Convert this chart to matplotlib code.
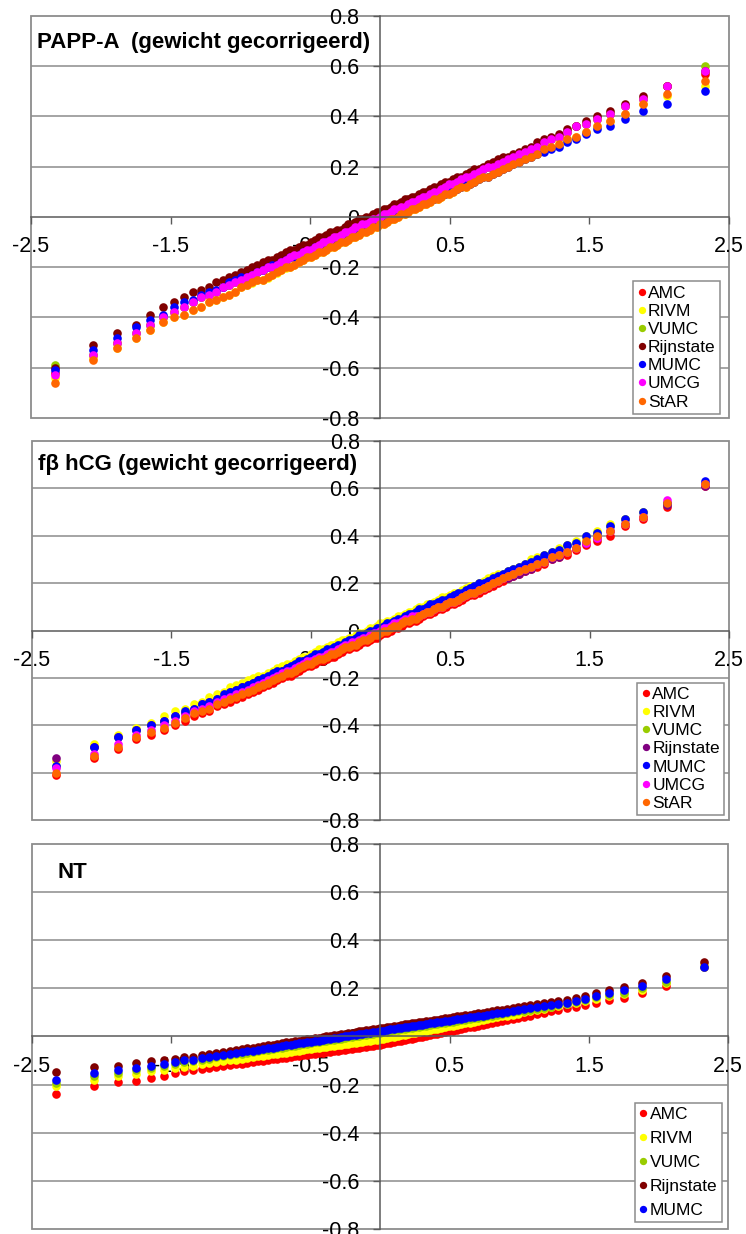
import matplotlib
matplotlib.use("Agg")
import matplotlib.pyplot as plt
from matplotlib.patches import Rectangle
from matplotlib.ticker import FuncFormatter, MultipleLocator

plt.rcParams["font.family"] = ["Liberation Sans", "DejaVu Sans"]

# normal scores of the 1st..99th percentile (x axis of every panel)
z = [-2.326, -2.054, -1.881, -1.751, -1.645, -1.555, -1.476, -1.405, -1.341, -1.282,
     -1.227, -1.175, -1.126, -1.080, -1.036, -0.994, -0.954, -0.915, -0.878, -0.842,
     -0.806, -0.772, -0.739, -0.706, -0.674, -0.643, -0.613, -0.583, -0.553, -0.524,
     -0.496, -0.468, -0.440, -0.412, -0.385, -0.358, -0.332, -0.305, -0.279, -0.253,
     -0.228, -0.202, -0.176, -0.151, -0.126, -0.100, -0.075, -0.050, -0.025, 0.0,
     0.025, 0.050, 0.075, 0.100, 0.126, 0.151, 0.176, 0.202, 0.228, 0.253,
     0.279, 0.305, 0.332, 0.358, 0.385, 0.412, 0.440, 0.468, 0.496, 0.524,
     0.553, 0.583, 0.613, 0.643, 0.674, 0.706, 0.739, 0.772, 0.806, 0.842,
     0.878, 0.915, 0.954, 0.994, 1.036, 1.080, 1.126, 1.175, 1.227, 1.282,
     1.341, 1.405, 1.476, 1.555, 1.645, 1.751, 1.881, 2.054, 2.326]

centres = ["AMC", "RIVM", "VUMC", "Rijnstate", "MUMC", "UMCG", "StAR"]
x_ticks = [-2.5, -1.5, -0.5, 0.5, 1.5, 2.5]

# ---- PAPP-A ----
papp_amc = [-0.62, -0.55, -0.50, -0.46, -0.43, -0.40, -0.38, -0.36,
            -0.34, -0.32, -0.31, -0.30, -0.28, -0.27, -0.26, -0.25, -0.24, -0.23, -0.22, -0.21,
            -0.20, -0.20, -0.19, -0.18, -0.17, -0.16, -0.15, -0.15, -0.14, -0.13,
            -0.13, -0.12, -0.11, -0.10, -0.10, -0.09, -0.08, -0.08, -0.07, -0.06,
            -0.06, -0.05, -0.04, -0.04, -0.03, -0.03, -0.02, -0.01, -0.01, 0.00,
            0.01, 0.01, 0.02, 0.03, 0.03, 0.04, 0.04, 0.05, 0.06, 0.06,
            0.07, 0.08, 0.08, 0.09, 0.10, 0.10, 0.11, 0.12, 0.13, 0.13,
            0.14, 0.15, 0.16, 0.16, 0.17, 0.18, 0.19, 0.20, 0.20, 0.21,
            0.22, 0.23, 0.24, 0.25, 0.26, 0.27, 0.28, 0.30, 0.31, 0.32,
            0.34, 0.36, 0.37, 0.39, 0.41, 0.44, 0.47, 0.52, 0.57]
papp_rivm = [-0.64, -0.56, -0.52, -0.48, -0.45, -0.42, -0.40, -0.39,
             -0.37, -0.36, -0.34, -0.33, -0.32, -0.31, -0.30, -0.28, -0.272, -0.262, -0.252, -0.252,
             -0.242, -0.232, -0.222, -0.212, -0.202, -0.20, -0.19, -0.18, -0.17, -0.16,
             -0.16, -0.15, -0.14, -0.14, -0.13, -0.12, -0.12, -0.11, -0.10, -0.10,
             -0.09, -0.08, -0.08, -0.07, -0.06, -0.06, -0.05, -0.04, -0.04, -0.03,
             -0.03, -0.02, -0.01, -0.01, 0.00, 0.01, 0.01, 0.02, 0.03, 0.03,
             0.04, 0.05, 0.05, 0.06, 0.07, 0.07, 0.08, 0.09, 0.09, 0.10,
             0.11, 0.12, 0.12, 0.13, 0.14, 0.15, 0.16, 0.16, 0.17, 0.18,
             0.19, 0.20, 0.21, 0.22, 0.23, 0.24, 0.25, 0.27, 0.28, 0.29,
             0.31, 0.32, 0.34, 0.36, 0.38, 0.41, 0.45, 0.48, 0.52]
papp_vumc = [-0.59, -0.55, -0.50, -0.46, -0.43, -0.40, -0.38, -0.36,
             -0.34, -0.32, -0.31, -0.30, -0.28, -0.27, -0.26, -0.25, -0.24, -0.23, -0.22, -0.21,
             -0.20, -0.20, -0.19, -0.18, -0.17, -0.16, -0.15, -0.15, -0.14, -0.13,
             -0.13, -0.12, -0.11, -0.10, -0.10, -0.09, -0.08, -0.08, -0.07, -0.06,
             -0.06, -0.05, -0.04, -0.04, -0.03, -0.03, -0.02, -0.01, -0.01, 0.00,
             0.01, 0.01, 0.02, 0.03, 0.03, 0.04, 0.04, 0.05, 0.06, 0.06,
             0.07, 0.08, 0.08, 0.09, 0.10, 0.10, 0.11, 0.12, 0.13, 0.13,
             0.14, 0.15, 0.16, 0.16, 0.17, 0.18, 0.19, 0.20, 0.20, 0.21,
             0.22, 0.23, 0.24, 0.25, 0.26, 0.27, 0.28, 0.30, 0.31, 0.32,
             0.34, 0.36, 0.37, 0.39, 0.41, 0.44, 0.47, 0.52, 0.60]
papp_rijn = [-0.60, -0.51, -0.46, -0.43, -0.39, -0.36, -0.34, -0.32,
             -0.30, -0.29, -0.28, -0.26, -0.25, -0.24, -0.23, -0.22, -0.21, -0.20, -0.19, -0.18,
             -0.17, -0.17, -0.16, -0.15, -0.14, -0.13, -0.13, -0.12, -0.11, -0.11,
             -0.10, -0.09, -0.08, -0.08, -0.07, -0.06, -0.06, -0.05, -0.05, -0.04,
             -0.03, -0.03, -0.02, -0.01, -0.01, 0.00, 0.00, 0.01, 0.02, 0.02,
             0.03, 0.03, 0.04, 0.05, 0.05, 0.06, 0.07, 0.07, 0.08, 0.08,
             0.09, 0.10, 0.10, 0.11, 0.12, 0.12, 0.13, 0.14, 0.14, 0.15,
             0.16, 0.16, 0.17, 0.18, 0.19, 0.19, 0.20, 0.21, 0.22, 0.23,
             0.24, 0.24, 0.25, 0.26, 0.27, 0.28, 0.30, 0.31, 0.32, 0.33,
             0.35, 0.36, 0.38, 0.40, 0.42, 0.45, 0.48, 0.52, 0.58]
papp_mumc = [-0.61, -0.53, -0.48, -0.44, -0.41, -0.39, -0.36, -0.34,
             -0.33, -0.31, -0.30, -0.29, -0.28, -0.26, -0.25, -0.24, -0.24, -0.23, -0.22, -0.21,
             -0.20, -0.19, -0.19, -0.18, -0.17, -0.16, -0.16, -0.15, -0.14, -0.14,
             -0.13, -0.12, -0.12, -0.11, -0.10, -0.10, -0.09, -0.09, -0.08, -0.07,
             -0.07, -0.06, -0.06, -0.05, -0.04, -0.04, -0.03, -0.03, -0.02, -0.02,
             -0.01, 0.00, 0.00, 0.01, 0.01, 0.02, 0.03, 0.03, 0.04, 0.04,
             0.05, 0.06, 0.06, 0.07, 0.07, 0.08, 0.09, 0.09, 0.10, 0.11,
             0.11, 0.12, 0.13, 0.13, 0.14, 0.15, 0.16, 0.16, 0.17, 0.18,
             0.19, 0.20, 0.21, 0.22, 0.23, 0.24, 0.25, 0.26, 0.27, 0.28,
             0.30, 0.31, 0.33, 0.35, 0.36, 0.39, 0.42, 0.45, 0.50]
papp_umcg = [-0.63, -0.55, -0.50, -0.46, -0.43, -0.40, -0.38, -0.36,
             -0.34, -0.32, -0.31, -0.30, -0.28, -0.27, -0.26, -0.25, -0.24, -0.23, -0.22, -0.21,
             -0.20, -0.20, -0.19, -0.18, -0.17, -0.16, -0.15, -0.15, -0.14, -0.13,
             -0.13, -0.12, -0.11, -0.10, -0.10, -0.09, -0.08, -0.08, -0.07, -0.06,
             -0.06, -0.05, -0.04, -0.04, -0.03, -0.03, -0.02, -0.01, -0.01, 0.00,
             0.01, 0.01, 0.02, 0.03, 0.03, 0.04, 0.04, 0.05, 0.06, 0.06,
             0.07, 0.08, 0.08, 0.09, 0.10, 0.10, 0.11, 0.12, 0.13, 0.13,
             0.14, 0.15, 0.16, 0.16, 0.17, 0.18, 0.19, 0.20, 0.20, 0.21,
             0.22, 0.23, 0.24, 0.25, 0.26, 0.27, 0.28, 0.30, 0.31, 0.32,
             0.34, 0.36, 0.37, 0.39, 0.41, 0.44, 0.47, 0.52, 0.58]
papp_star = [-0.66, -0.57, -0.52, -0.48, -0.45, -0.42, -0.40, -0.39,
             -0.37, -0.36, -0.34, -0.33, -0.32, -0.31, -0.30, -0.28, -0.27, -0.26, -0.25, -0.25,
             -0.24, -0.23, -0.22, -0.21, -0.20, -0.20, -0.19, -0.18, -0.17, -0.16,
             -0.16, -0.15, -0.14, -0.14, -0.13, -0.12, -0.12, -0.11, -0.10, -0.10,
             -0.09, -0.08, -0.08, -0.07, -0.06, -0.06, -0.05, -0.04, -0.04, -0.03,
             -0.03, -0.02, -0.01, -0.01, 0.00, 0.01, 0.01, 0.02, 0.03, 0.03,
             0.04, 0.05, 0.05, 0.06, 0.07, 0.07, 0.08, 0.09, 0.09, 0.10,
             0.11, 0.12, 0.12, 0.13, 0.14, 0.15, 0.16, 0.16, 0.17, 0.18,
             0.19, 0.20, 0.21, 0.22, 0.23, 0.24, 0.25, 0.27, 0.28, 0.29,
             0.31, 0.32, 0.34, 0.36, 0.38, 0.41, 0.45, 0.49, 0.54]

# ---- f-beta hCG ----
hcg_amc = [-0.61, -0.54, -0.50, -0.46, -0.44, -0.42, -0.40, -0.38,
           -0.36, -0.35, -0.34, -0.32, -0.31, -0.30, -0.29, -0.28, -0.27, -0.26, -0.25, -0.24,
           -0.23, -0.22, -0.21, -0.20, -0.19, -0.19, -0.18, -0.17, -0.16, -0.15,
           -0.15, -0.14, -0.13, -0.13, -0.12, -0.11, -0.11, -0.10, -0.09, -0.08,
           -0.08, -0.07, -0.07, -0.06, -0.05, -0.05, -0.04, -0.03, -0.03, -0.02,
           -0.01, -0.01, 0.00, 0.01, 0.01, 0.02, 0.03, 0.03, 0.04, 0.04,
           0.05, 0.06, 0.07, 0.07, 0.08, 0.09, 0.09, 0.10, 0.11, 0.11,
           0.12, 0.13, 0.14, 0.15, 0.15, 0.16, 0.17, 0.18, 0.19, 0.20,
           0.21, 0.22, 0.23, 0.24, 0.25, 0.26, 0.27, 0.28, 0.30, 0.31,
           0.32, 0.34, 0.36, 0.38, 0.40, 0.44, 0.47, 0.52, 0.61]
hcg_rivm = [-0.55, -0.48, -0.44, -0.41, -0.39, -0.36, -0.34, -0.33,
            -0.31, -0.30, -0.28, -0.27, -0.26, -0.24, -0.23, -0.22, -0.21, -0.20, -0.19, -0.19,
            -0.18, -0.17, -0.16, -0.15, -0.14, -0.14, -0.13, -0.12, -0.11, -0.11,
            -0.10, -0.09, -0.08, -0.08, -0.07, -0.06, -0.06, -0.05, -0.04, -0.04,
            -0.03, -0.03, -0.02, -0.01, -0.01, 0.00, 0.01, 0.01, 0.02, 0.03,
            0.03, 0.04, 0.04, 0.05, 0.06, 0.06, 0.07, 0.08, 0.08, 0.09,
            0.10, 0.10, 0.11, 0.11, 0.12, 0.13, 0.14, 0.14, 0.15, 0.16,
            0.16, 0.17, 0.18, 0.19, 0.19, 0.20, 0.21, 0.22, 0.23, 0.24,
            0.24, 0.25, 0.26, 0.27, 0.28, 0.30, 0.31, 0.32, 0.33, 0.35,
            0.36, 0.38, 0.39, 0.42, 0.45, 0.47, 0.50, 0.54, 0.62]
hcg_vumc = [-0.57, -0.49, -0.45, -0.42, -0.40, -0.38, -0.36, -0.34,
            -0.33, -0.31, -0.30, -0.29, -0.27, -0.26, -0.25, -0.24, -0.23, -0.22, -0.21, -0.20,
            -0.19, -0.18, -0.17, -0.17, -0.16, -0.15, -0.14, -0.13, -0.13, -0.12,
            -0.11, -0.10, -0.10, -0.09, -0.08, -0.08, -0.07, -0.06, -0.06, -0.05,
            -0.04, -0.04, -0.03, -0.02, -0.02, -0.01, 0.00, 0.00, 0.01, 0.01,
            0.02, 0.03, 0.03, 0.04, 0.05, 0.05, 0.06, 0.07, 0.07, 0.08,
            0.09, 0.09, 0.10, 0.11, 0.11, 0.12, 0.13, 0.13, 0.14, 0.15,
            0.16, 0.16, 0.17, 0.18, 0.19, 0.20, 0.20, 0.21, 0.22, 0.23,
            0.24, 0.25, 0.26, 0.27, 0.28, 0.29, 0.30, 0.32, 0.33, 0.34,
            0.36, 0.37, 0.40, 0.41, 0.44, 0.47, 0.50, 0.54, 0.62]
hcg_rijn = [-0.54, -0.49, -0.45, -0.42, -0.40, -0.38, -0.36, -0.35,
            -0.33, -0.31, -0.30, -0.29, -0.28, -0.26, -0.25, -0.24, -0.23, -0.22, -0.21, -0.21,
            -0.20, -0.19, -0.18, -0.17, -0.16, -0.16, -0.15, -0.14, -0.13, -0.13,
            -0.12, -0.11, -0.11, -0.10, -0.09, -0.09, -0.08, -0.07, -0.07, -0.06,
            -0.06, -0.05, -0.04, -0.04, -0.03, -0.02, -0.02, -0.01, -0.01, 0.00,
            0.01, 0.01, 0.02, 0.02, 0.03, 0.04, 0.04, 0.05, 0.06, 0.06,
            0.07, 0.07, 0.08, 0.09, 0.09, 0.10, 0.11, 0.11, 0.12, 0.13,
            0.14, 0.14, 0.15, 0.16, 0.17, 0.17, 0.18, 0.19, 0.20, 0.21,
            0.22, 0.22, 0.23, 0.24, 0.25, 0.26, 0.28, 0.29, 0.30, 0.31,
            0.33, 0.35, 0.37, 0.39, 0.42, 0.45, 0.48, 0.53, 0.61]
hcg_mumc = [-0.57, -0.49, -0.45, -0.42, -0.40, -0.38, -0.36, -0.34,
            -0.33, -0.31, -0.30, -0.29, -0.27, -0.26, -0.25, -0.24, -0.23, -0.22, -0.21, -0.20,
            -0.19, -0.18, -0.17, -0.17, -0.16, -0.15, -0.14, -0.13, -0.13, -0.12,
            -0.11, -0.10, -0.10, -0.09, -0.08, -0.08, -0.07, -0.06, -0.06, -0.05,
            -0.04, -0.04, -0.03, -0.02, -0.02, -0.01, 0.00, 0.00, 0.01, 0.01,
            0.02, 0.03, 0.03, 0.04, 0.05, 0.05, 0.06, 0.07, 0.07, 0.08,
            0.09, 0.09, 0.10, 0.11, 0.11, 0.12, 0.13, 0.13, 0.14, 0.15,
            0.16, 0.16, 0.17, 0.18, 0.19, 0.20, 0.20, 0.21, 0.22, 0.23,
            0.24, 0.25, 0.26, 0.27, 0.28, 0.29, 0.30, 0.32, 0.33, 0.34,
            0.36, 0.37, 0.40, 0.41, 0.44, 0.47, 0.50, 0.54, 0.63]
hcg_umcg = [-0.58, -0.52, -0.48, -0.44, -0.42, -0.40, -0.38, -0.36,
            -0.34, -0.33, -0.32, -0.30, -0.29, -0.28, -0.27, -0.26, -0.25, -0.24, -0.23, -0.22,
            -0.21, -0.20, -0.19, -0.18, -0.17, -0.17, -0.16, -0.15, -0.14, -0.13,
            -0.13, -0.12, -0.11, -0.11, -0.10, -0.09, -0.09, -0.08, -0.07, -0.06,
            -0.06, -0.05, -0.05, -0.04, -0.03, -0.03, -0.02, -0.01, -0.01, 0.00,
            0.01, 0.01, 0.02, 0.03, 0.03, 0.04, 0.05, 0.05, 0.06, 0.06,
            0.06, 0.07, 0.08, 0.08, 0.09, 0.10, 0.10, 0.11, 0.12, 0.12,
            0.13, 0.14, 0.15, 0.16, 0.16, 0.17, 0.18, 0.19, 0.20, 0.21,
            0.22, 0.23, 0.24, 0.25, 0.26, 0.27, 0.28, 0.29, 0.31, 0.32,
            0.33, 0.35, 0.37, 0.39, 0.42, 0.45, 0.48, 0.55, 0.62]
hcg_star = [-0.60, -0.53, -0.49, -0.45, -0.43, -0.41, -0.39, -0.37,
            -0.35, -0.34, -0.33, -0.31, -0.30, -0.29, -0.28, -0.27, -0.26, -0.25, -0.24, -0.23,
            -0.22, -0.21, -0.20, -0.19, -0.18, -0.18, -0.17, -0.16, -0.15, -0.14,
            -0.14, -0.13, -0.12, -0.12, -0.11, -0.10, -0.10, -0.09, -0.08, -0.07,
            -0.07, -0.06, -0.06, -0.05, -0.04, -0.04, -0.03, -0.02, -0.02, -0.01,
            0.00, 0.00, 0.01, 0.02, 0.02, 0.03, 0.04, 0.04, 0.05, 0.05,
            0.06, 0.07, 0.08, 0.08, 0.09, 0.10, 0.10, 0.11, 0.12, 0.12,
            0.13, 0.14, 0.15, 0.16, 0.16, 0.17, 0.18, 0.19, 0.20, 0.21,
            0.22, 0.23, 0.24, 0.25, 0.26, 0.27, 0.28, 0.29, 0.31, 0.32,
            0.33, 0.35, 0.38, 0.40, 0.42, 0.45, 0.48, 0.54, 0.62]

# ---- NT ----
nt_amc = [-0.240, -0.207, -0.190, -0.186, -0.174, -0.165, -0.153, -0.145,
          -0.140, -0.135, -0.131, -0.127, -0.123, -0.119, -0.116, -0.113, -0.109, -0.106, -0.104, -0.101,
          -0.098, -0.095, -0.093, -0.090, -0.088, -0.085, -0.083, -0.081, -0.078, -0.076,
          -0.074, -0.072, -0.069, -0.067, -0.065, -0.063, -0.061, -0.059, -0.057, -0.055,
          -0.053, -0.051, -0.049, -0.047, -0.045, -0.043, -0.041, -0.039, -0.037, -0.035,
          -0.032, -0.029, -0.027, -0.024, -0.021, -0.018, -0.015, -0.012, -0.009, -0.006,
          -0.003, -0.001, 0.003, 0.005, 0.009, 0.012, 0.015, 0.018, 0.021, 0.024,
          0.028, 0.031, 0.034, 0.038, 0.041, 0.045, 0.049, 0.052, 0.056, 0.060,
          0.064, 0.068, 0.073, 0.077, 0.082, 0.087, 0.092, 0.098, 0.104, 0.110,
          0.117, 0.124, 0.132, 0.141, 0.153, 0.161, 0.182, 0.211, 0.290]
nt_rivm = [-0.207, -0.182, -0.165, -0.157, -0.145, -0.138, -0.132, -0.126,
           -0.121, -0.116, -0.111, -0.107, -0.103, -0.099, -0.096, -0.092, -0.089, -0.086, -0.083, -0.080,
           -0.077, -0.075, -0.072, -0.069, -0.067, -0.064, -0.062, -0.059, -0.057, -0.054,
           -0.052, -0.050, -0.048, -0.045, -0.043, -0.041, -0.039, -0.037, -0.035, -0.032,
           -0.030, -0.028, -0.026, -0.024, -0.022, -0.020, -0.018, -0.016, -0.014, -0.012,
           -0.009, -0.007, -0.004, -0.001, 0.002, 0.004, 0.007, 0.010, 0.013, 0.015,
           0.018, 0.021, 0.024, 0.027, 0.030, 0.032, 0.036, 0.039, 0.042, 0.045,
           0.048, 0.051, 0.054, 0.057, 0.061, 0.064, 0.068, 0.071, 0.075, 0.079,
           0.083, 0.087, 0.091, 0.095, 0.100, 0.105, 0.110, 0.115, 0.121, 0.126,
           0.133, 0.140, 0.147, 0.155, 0.166, 0.178, 0.195, 0.220, 0.295]
nt_vumc = [-0.195, -0.165, -0.150, -0.140, -0.132, -0.123, -0.113, -0.106,
           -0.102, -0.097, -0.092, -0.087, -0.083, -0.079, -0.075, -0.072, -0.068, -0.065, -0.061, -0.058,
           -0.055, -0.052, -0.049, -0.046, -0.043, -0.041, -0.038, -0.035, -0.033, -0.030,
           -0.028, -0.025, -0.023, -0.020, -0.018, -0.016, -0.013, -0.011, -0.009, -0.006,
           -0.004, -0.002, 0.001, 0.003, 0.005, 0.007, 0.009, 0.012, 0.014, 0.016,
           0.018, 0.020, 0.023, 0.025, 0.027, 0.029, 0.032, 0.034, 0.036, 0.038,
           0.041, 0.043, 0.045, 0.048, 0.050, 0.052, 0.055, 0.057, 0.060, 0.062,
           0.065, 0.067, 0.070, 0.073, 0.075, 0.078, 0.081, 0.084, 0.087, 0.090,
           0.093, 0.097, 0.100, 0.104, 0.107, 0.111, 0.115, 0.119, 0.124, 0.129,
           0.134, 0.143, 0.151, 0.162, 0.172, 0.180, 0.200, 0.228, 0.290]
nt_rijn = [-0.149, -0.128, -0.121, -0.110, -0.103, -0.098, -0.092, -0.086,
           -0.084, -0.079, -0.074, -0.069, -0.065, -0.061, -0.057, -0.054, -0.050, -0.047, -0.043, -0.040,
           -0.037, -0.034, -0.031, -0.028, -0.025, -0.023, -0.020, -0.017, -0.015, -0.012,
           -0.010, -0.007, -0.005, -0.002, 0.000, 0.002, 0.005, 0.007, 0.009, 0.012,
           0.014, 0.016, 0.019, 0.021, 0.023, 0.025, 0.027, 0.030, 0.032, 0.034,
           0.036, 0.038, 0.041, 0.043, 0.045, 0.047, 0.050, 0.052, 0.054, 0.056,
           0.059, 0.061, 0.063, 0.066, 0.068, 0.070, 0.073, 0.075, 0.078, 0.080,
           0.083, 0.085, 0.088, 0.091, 0.093, 0.096, 0.099, 0.102, 0.105, 0.108,
           0.111, 0.115, 0.118, 0.122, 0.125, 0.129, 0.133, 0.137, 0.142, 0.147,
           0.152, 0.160, 0.168, 0.180, 0.192, 0.205, 0.220, 0.253, 0.310]
nt_mumc = [-0.182, -0.153, -0.141, -0.132, -0.124, -0.116, -0.106, -0.100,
           -0.096, -0.091, -0.086, -0.081, -0.077, -0.073, -0.069, -0.066, -0.062, -0.059, -0.055, -0.052,
           -0.049, -0.046, -0.043, -0.040, -0.037, -0.035, -0.032, -0.029, -0.027, -0.024,
           -0.022, -0.019, -0.017, -0.014, -0.012, -0.010, -0.007, -0.005, -0.003, 0.000,
           0.002, 0.004, 0.007, 0.009, 0.011, 0.013, 0.015, 0.018, 0.020, 0.022,
           0.024, 0.026, 0.029, 0.031, 0.033, 0.035, 0.038, 0.040, 0.042, 0.044,
           0.047, 0.049, 0.051, 0.054, 0.056, 0.058, 0.061, 0.063, 0.066, 0.068,
           0.071, 0.073, 0.076, 0.079, 0.081, 0.084, 0.087, 0.090, 0.093, 0.096,
           0.099, 0.103, 0.106, 0.110, 0.113, 0.117, 0.121, 0.125, 0.130, 0.135,
           0.140, 0.149, 0.157, 0.170, 0.182, 0.195, 0.211, 0.240, 0.290]

papp_colors = ["#FF0000", "#FFFF00", "#99CC00", "#800000", "#0000FF", "#FF00FF", "#FF6600"]
hcg_colors = ["#FF0000", "#FFFF00", "#99CC00", "#800080", "#0000FF", "#FF00FF", "#FF6600"]
nt_colors = ["#FF0000", "#FFFF00", "#99CC00", "#800000", "#0000FF"]

GRID = "#8c8c8c"
AXIS = "#5a5a5a"


def draw_panel(ax, title, title_xy, series, colors, legend_anchor, legend_spacing):
    ax.set_xlim(-2.5, 2.5)
    ax.set_ylim(-0.8, 0.8)

    # horizontal gridlines behind the points
    for v in [-0.6, -0.4, -0.2, 0.2, 0.4, 0.6]:
        ax.axhline(v, color=GRID, lw=1.1, zorder=1)
    ax.add_patch(Rectangle((0, 0), 1, 1, transform=ax.transAxes, fill=False,
                           ec=GRID, lw=1.3, clip_on=False, zorder=1))

    for name, vals, c in zip(centres, series, colors):
        ax.plot(z, vals, "o", ms=6.2, mew=0, color=c, label=name, zorder=2)

    # axes crossing at the origin
    ax.spines["left"].set_position(("data", 0))
    ax.spines["bottom"].set_position(("data", 0))
    ax.spines["top"].set_visible(False)
    ax.spines["right"].set_visible(False)
    for s in ("left", "bottom"):
        ax.spines[s].set_color(AXIS)
        ax.spines[s].set_linewidth(1.1)

    ax.set_xticks(x_ticks)
    ax.yaxis.set_major_locator(MultipleLocator(0.2))
    ax.xaxis.set_major_formatter(FuncFormatter(lambda v, p: f"{v:.1f}"))
    ax.yaxis.set_major_formatter(
        FuncFormatter(lambda v, p: "0" if abs(v) < 1e-9 else f"{v:.1f}"))
    ax.tick_params(axis="x", direction="out", length=5, width=1, color=AXIS,
                   pad=9, labelsize=15.5)
    ax.tick_params(axis="y", direction="out", length=5, width=1, color=AXIS,
                   pad=10, labelsize=15.5)

    ax.text(title_xy[0], title_xy[1], title, transform=ax.transAxes,
            fontsize=16, fontweight="bold", ha="left", va="center")

    leg = ax.legend(loc="lower right", bbox_to_anchor=legend_anchor, fontsize=12.5,
                    frameon=True, fancybox=False, edgecolor=GRID, framealpha=1,
                    handlelength=0.45, handletextpad=0.15, borderpad=0.25,
                    labelspacing=legend_spacing, borderaxespad=0, markerscale=0.85)
    leg.get_frame().set_linewidth(1.1)


fig = plt.figure(figsize=(7.46, 12.34), dpi=100)
ax1 = fig.add_axes([0.0416, 0.6613, 0.9357, 0.3258])
ax2 = fig.add_axes([0.0429, 0.3355, 0.9343, 0.3071])
ax3 = fig.add_axes([0.0429, 0.0041, 0.9330, 0.3120])

draw_panel(ax1, "PAPP-A  (gewicht gecorrigeerd)", (0.009, 0.935),
           [papp_amc, papp_rivm, papp_vumc, papp_rijn, papp_mumc, papp_umcg, papp_star],
           papp_colors, (0.987, 0.01), 0.17)
draw_panel(ax2, "f\u03b2 hCG (gewicht gecorrigeerd)", (0.009, 0.939),
           [hcg_amc, hcg_rivm, hcg_vumc, hcg_rijn, hcg_mumc, hcg_umcg, hcg_star],
           hcg_colors, (0.993, 0.013), 0.17)
draw_panel(ax3, "NT", (0.036, 0.927),
           [nt_amc, nt_rivm, nt_vumc, nt_rijn, nt_mumc],
           nt_colors, (0.991, 0.018), 0.5)

fig.savefig("out.png", dpi=100)
